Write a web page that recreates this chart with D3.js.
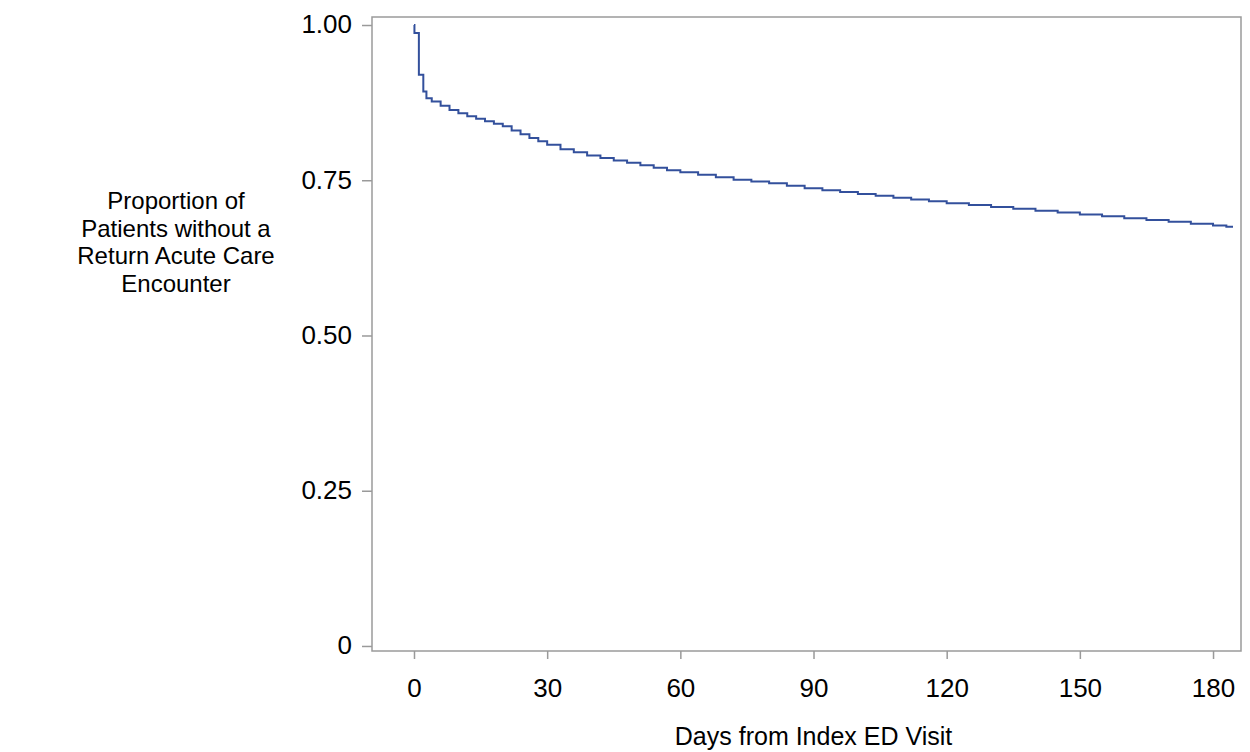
<!DOCTYPE html>
<html>
<head>
<meta charset="utf-8">
<script src="https://cdn.jsdelivr.net/npm/d3@7"></script>
<style>
  html, body { margin: 0; padding: 0; background: #fff; }
  svg text { font-family: "Liberation Sans", Arial, Helvetica, sans-serif; fill: #000; }
</style>
</head>
<body>
<svg id="chart" width="1250" height="752"></svg>
<script>
// ---- data ----
const days = [0, 0.1, 1.1, 2.1, 2.8, 4, 6, 8, 10, 12, 14, 16, 18, 20, 22, 24, 26, 28, 30,
  33, 36, 39, 42, 45, 48, 51, 54, 57, 60, 64, 68, 72, 76, 80, 84, 88, 92, 96, 100,
  104, 108, 112, 116, 120, 125, 130, 135, 140, 145, 150, 155, 160, 165, 170, 175, 180, 183, 184.5];
const survival = [1.000, 0.987, 0.920, 0.893, 0.882, 0.877, 0.870, 0.863, 0.858, 0.853, 0.849, 0.845, 0.841, 0.837, 0.830, 0.824, 0.818, 0.813, 0.807,
  0.800, 0.795, 0.790, 0.786, 0.782, 0.778, 0.774, 0.770, 0.766, 0.763, 0.759, 0.755, 0.751, 0.748, 0.745, 0.741, 0.737, 0.734, 0.731, 0.728,
  0.725, 0.722, 0.719, 0.716, 0.713, 0.710, 0.707, 0.704, 0.701, 0.698, 0.695, 0.692, 0.689, 0.686, 0.683, 0.680, 0.677, 0.675, 0.675];
const xTicks = [0, 30, 60, 90, 120, 150, 180];
const yTicks = [0, 0.25, 0.5, 0.75, 1.0];
const yTickLabels = ["0", "0.25", "0.50", "0.75", "1.00"];
const xTitle = "Days from Index ED Visit";
const yTitleLines = ["Proportion of", "Patients without a", "Return Acute Care", "Encounter"];

// ---- layout ----
const frame = { left: 372, top: 17, right: 1241, bottom: 651 };
const svg = d3.select("#chart");

const x = d3.scaleLinear().domain([-9.46, 186.3]).range([frame.left, frame.right]);
const y = d3.scaleLinear().domain([-0.0081, 1.0129]).range([frame.bottom, frame.top]);

const axisColor = "#9a9a9a";

// frame
svg.append("rect")
  .attr("x", frame.left).attr("y", frame.top)
  .attr("width", frame.right - frame.left).attr("height", frame.bottom - frame.top)
  .attr("fill", "none").attr("stroke", axisColor).attr("stroke-width", 1.5);

// x axis
const xAxis = svg.append("g").attr("transform", `translate(0,${frame.bottom})`)
  .call(d3.axisBottom(x).tickValues(xTicks).tickSize(8).tickPadding(20).tickFormat(d3.format("d")));
xAxis.select(".domain").remove();
xAxis.selectAll(".tick line").attr("stroke", axisColor).attr("stroke-width", 1.5);
xAxis.selectAll(".tick text").attr("font-size", 26).attr("fill", "#000");

// y axis
const yAxis = svg.append("g").attr("transform", `translate(${frame.left},0)`)
  .call(d3.axisLeft(y).tickValues(yTicks).tickSize(10).tickPadding(10)
    .tickFormat((d, i) => yTickLabels[i]));
yAxis.select(".domain").remove();
yAxis.selectAll(".tick line").attr("stroke", axisColor).attr("stroke-width", 1.5);
yAxis.selectAll(".tick text").attr("font-size", 26).attr("fill", "#000").attr("dy", "0.3em");

// axis titles
svg.append("text").attr("x", (x(0) + x(180)) / 2).attr("y", 745)
  .attr("text-anchor", "middle").attr("font-size", 25).text(xTitle);

const yt = svg.append("text").attr("text-anchor", "middle").attr("font-size", 24);
yTitleLines.forEach((t, i) => {
  yt.append("tspan").attr("x", 176).attr("y", 209 + i * 27.5).text(t);
});

// survival curve
const pts = days.map((d, i) => [d, survival[i]]);
const line = d3.line().x(d => x(d[0])).y(d => y(d[1])).curve(d3.curveStepAfter);
svg.append("path").datum(pts)
  .attr("d", line)
  .attr("fill", "none")
  .attr("stroke", "#33509c")
  .attr("stroke-width", 2);
</script>
</body>
</html>
